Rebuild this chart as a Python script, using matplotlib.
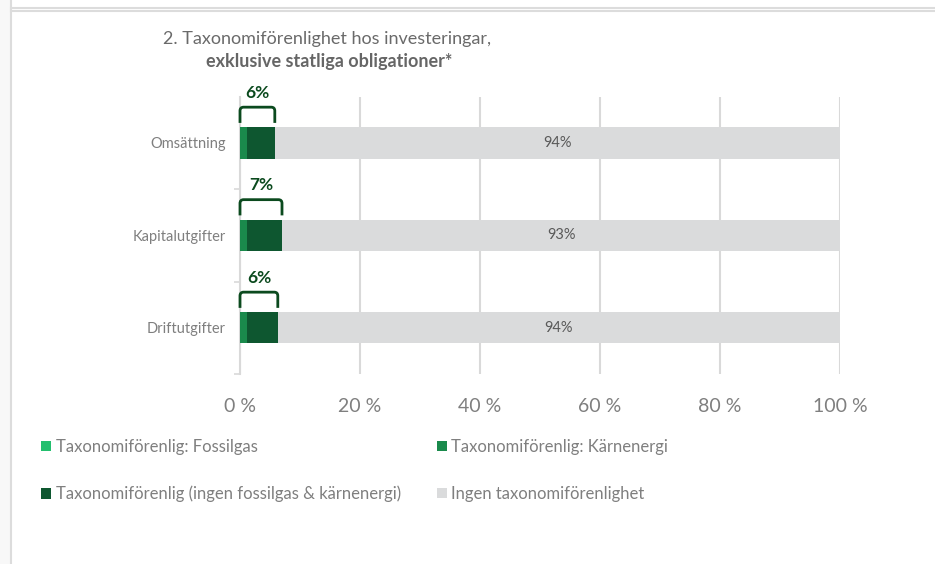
import matplotlib
matplotlib.use("Agg")
import matplotlib.pyplot as plt
from matplotlib.lines import Line2D
from matplotlib.patches import Patch, PathPatch
from matplotlib.path import Path
import numpy as np

plt.rcParams.update({
    "font.family": ["Lato", "DejaVu Sans"],
    "text.color": "#595959",
})

# data (percent)
categories = ["Omsättning", "Kapitalutgifter", "Driftutgifter"]
fossilgas = [0.0, 0.0, 0.0]
karnenergi = [1.2, 1.2, 1.2]
ovrigt = [4.6, 5.8, 5.1]
ingen = [94.2, 93.0, 93.7]
totals_label = ["6%", "7%", "6%"]
ingen_label = ["94%", "93%", "94%"]

series_names = ["Taxonomiförenlig: Fossilgas",
                "Taxonomiförenlig: Kärnenergi",
                "Taxonomiförenlig (ingen fossilgas & kärnenergi)",
                "Ingen taxonomiförenlighet"]
colors = ["#23bf6e", "#1a8a4c", "#0e5730", "#dadbdc"]
grey_text = "#7f7f7f"
dark_green = "#0b4a1e"

fig = plt.figure(figsize=(9.35, 5.64), dpi=100)
ax = fig.add_axes([240 / 935, 1 - 374 / 564, 600 / 935, 277 / 564])

ypos = np.array([2, 1, 0])
h = 0.34
left = np.zeros(3)
for vals, c in zip([fossilgas, karnenergi, ovrigt, ingen], colors):
    ax.barh(ypos, vals, height=h, left=left, color=c, edgecolor="none", zorder=3)
    left = left + np.array(vals)

# labels in the grey segment
grey_start = np.array(fossilgas) + np.array(karnenergi) + np.array(ovrigt)
for y, s, w, lab in zip(ypos, grey_start, ingen, ingen_label):
    ax.text(s + w / 2, y, lab, ha="center", va="center", fontsize=10.5, color="#595959", zorder=4)

# brackets over the green part
for y, tot, lab in zip(ypos, grey_start, totals_label):
    yb = y + h / 2 + 0.045
    yt = y + h / 2 + 0.215
    rx, ry = 0.6, 0.04
    verts = [(0, yb), (0, yt - ry), (0, yt), (rx, yt), (tot - rx, yt), (tot, yt), (tot, yt - ry), (tot, yb)]
    codes = [Path.MOVETO, Path.LINETO, Path.CURVE3, Path.CURVE3, Path.LINETO, Path.CURVE3, Path.CURVE3, Path.LINETO]
    ax.add_patch(PathPatch(Path(verts, codes), facecolor="none", edgecolor=dark_green, lw=2, zorder=5, clip_on=False))
    ax.text(tot / 2, y + 0.54, lab, ha="center", va="center", fontsize=12.5, fontweight="bold", color=dark_green)

ax.set_xlim(0, 100)
ax.set_ylim(-0.49, 2.495)
ax.set_xticks([0, 20, 40, 60, 80, 100])
ax.set_xticklabels(["0 %", "20 %", "40 %", "60 %", "80 %", "100 %"], fontsize=14, color=grey_text)
ax.tick_params(axis="x", length=0, pad=17)
ax.set_yticks(ypos)
ax.set_yticklabels(categories, fontsize=10.5, color=grey_text)
ax.tick_params(axis="y", which="major", length=0, pad=10)
ax.set_yticks([-0.5, 0.5, 1.5], minor=True)
ax.tick_params(axis="y", which="minor", length=4, color="#d9d9d9", width=1.2)
for s in ["top", "right", "bottom"]:
    ax.spines[s].set_visible(False)
ax.spines["left"].set_color("#d9d9d9")
ax.spines["left"].set_linewidth(1.5)
ax.grid(axis="x", color="#d9d9d9", lw=1.5, zorder=0)
ax.set_axisbelow(True)

# title
fig.text(163 / 935, 1 - 39 / 564, "2. Taxonomiförenlighet hos investeringar,", fontsize=13,
         color="#6a6a6a", va="center", ha="left")
fig.text(206 / 935, 1 - 62 / 564, "exklusive statliga obligationer*", fontsize=13,
         fontweight="bold", color="#666666", va="center", ha="left")

# legend (column-major order so rows read fossilgas/kärnenergi, then the rest)
order = [0, 2, 1, 3]
handles = [Patch(facecolor=colors[i], edgecolor="none") for i in order]
labels = [series_names[i] for i in order]
fig.legend(handles, labels, loc="upper left", bbox_to_anchor=(41 / 935, 1 - 439 / 564),
           ncol=2, frameon=False, fontsize=12, handlelength=0.6, handleheight=0.6,
           handletextpad=0.28, columnspacing=2.15, labelspacing=1.85, borderpad=0,
           borderaxespad=0, labelcolor=grey_text)

# page frame lines
fig.patches.append(plt.Rectangle((0, 0), 10 / 935, 1, transform=fig.transFigure,
                                 facecolor="#f8f8f8", edgecolor="none"))
fig.add_artist(Line2D([11 / 935, 11 / 935], [0, 1], color="#dcdcdc", lw=1.5))
fig.add_artist(Line2D([11 / 935, 1], [1 - 7.5 / 564, 1 - 7.5 / 564], color="#dcdcdc", lw=1.5))
fig.add_artist(Line2D([11 / 935, 1], [1 - 10.5 / 564, 1 - 10.5 / 564], color="#dcdcdc", lw=1.5))

fig.savefig("out.png", dpi=100)
